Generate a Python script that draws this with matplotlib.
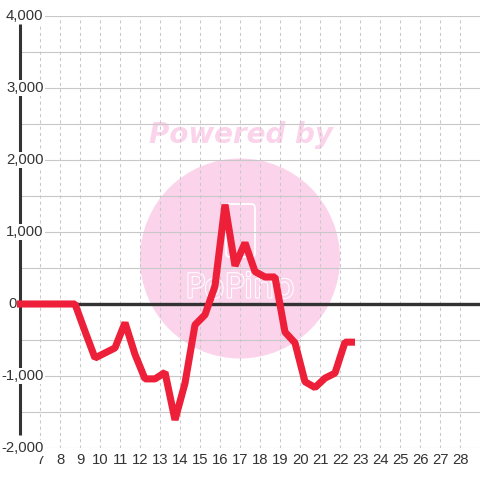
import matplotlib
matplotlib.use("Agg")
import matplotlib.pyplot as plt
from matplotlib.patches import Ellipse, FancyBboxPatch
import matplotlib.patheffects as pe

# ---- data ----
hours = [5.85, 6.25, 6.75, 7.25, 7.75, 8.25, 8.75, 9.25, 9.75, 10.25, 10.75,
         11.25, 11.75, 12.25, 12.75, 13.25, 13.75, 14.25, 14.75, 15.25, 15.75,
         16.25, 16.75, 17.25, 17.75, 18.25, 18.75, 19.25, 19.75, 20.25, 20.75,
         21.25, 21.75, 22.25, 22.75]
values = [0, 0, 0, 0, 0, 0, 0, -380, -750, -680, -610,
          -260, -700, -1040, -1040, -950, -1610, -1100, -290, -150, 250,
          1380, 530, 850, 450, 375, 375, -390, -540, -1080, -1160,
          -1030, -960, -530, -530]
x_ticks = list(range(7, 29))
x_tick_labels = [str(v) for v in x_ticks]
y_ticks = [-2000, -1000, 0, 1000, 2000, 3000, 4000]
y_tick_labels = ["-2,000", "-1,000", "0", "1,000", "2,000", "3,000", "4,000"]
y_grid = [-2000, -1500, -1000, -500, 0, 500, 1000, 1500, 2000, 2500, 3000, 3500, 4000]

W = H = 480
fig = plt.figure(figsize=(4.8, 4.8), dpi=100)
fig.patch.set_facecolor("white")
ax = fig.add_axes([20 / W, (H - 448) / H, 460 / W, 432 / H])
ax.set_xlim(6, 29)
ax.set_ylim(-2000, 4000)
for s in ax.spines.values():
    s.set_visible(False)
ax.set_xticks([])
ax.set_yticks([])
ax.set_facecolor("white")

# watermark
pink = "#fbd3eb"
circ = Ellipse((240 / W, 1 - 258.5 / H), 200 / W, 200 / H, transform=fig.transFigure,
               facecolor=pink, edgecolor="none", zorder=0.2)
ax.add_patch(circ)
ax.text(241 / W, 1 - 135 / H, "Powered by", transform=fig.transFigure, ha="center",
        va="center", fontsize=20, fontweight="bold", fontstyle="italic",
        family="DejaVu Sans", color=pink, zorder=0.3)
ax.text(240 / W, 1 - 288 / H, "PoPino", transform=fig.transFigure, ha="center",
        va="center", fontsize=24, family="DejaVu Sans", color=pink, zorder=0.3,
        path_effects=[pe.withStroke(linewidth=1.5, foreground="white")])
cup = FancyBboxPatch((226 / W, 1 - 257 / H), 29 / W, 53 / H,
                     boxstyle="round,pad=0,rounding_size=0.008",
                     transform=fig.transFigure, facecolor="none",
                     edgecolor="white", linewidth=1.3, zorder=0.3)
ax.add_patch(cup)

# grid
for yv in y_grid:
    ax.axhline(yv, color="#c8c8c8", lw=0.8, zorder=1)
for xv in x_ticks:
    ax.axvline(xv, color="#c8c8c8", lw=0.75, ls=(0, (3, 3)), zorder=1)

# zero line and left axis line
ax.axhline(0, color="#333333", lw=2.4, zorder=2)
ax.plot([6.02, 6.02], [-1820, 3890], color="#333333", lw=2.2, zorder=2,
        solid_capstyle="butt", clip_on=False)

# tick labels
font = dict(family="Liberation Sans", fontsize=10.7, color="#333333")
ytr = ax.get_yaxis_transform()
for yv, lab in zip(y_ticks, y_tick_labels):
    if lab == "0":
        ax.text(-12 / 460, yv, lab, transform=ytr, ha="left", va="center",
                zorder=4, clip_on=False, **font)
    else:
        ax.text(23.5 / 460, yv, lab, transform=ytr, ha="right", va="center",
                zorder=4, clip_on=False,
                bbox=dict(facecolor="white", edgecolor="none", pad=1), **font)
xtr = ax.get_xaxis_transform()
for xv, lab in zip(x_ticks, x_tick_labels):
    ax.text(xv + 0.03, -12.5 / 432, lab, transform=xtr, ha="center", va="center",
            clip_on=False, **font)

# series
ax.plot(hours, values, color="#ee1f38", lw=5.1, zorder=5, clip_on=False,
        solid_joinstyle="bevel", solid_capstyle="butt")

fig.savefig("out.png", dpi=100, facecolor="white")
